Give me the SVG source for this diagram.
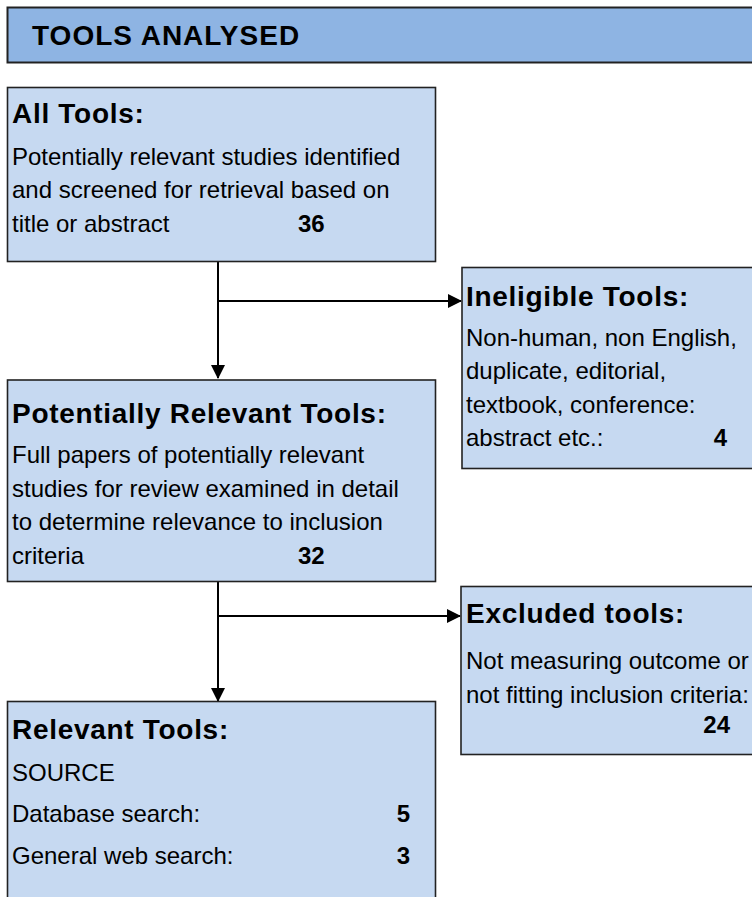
<svg xmlns="http://www.w3.org/2000/svg" width="752" height="897" viewBox="0 0 752 897">
<style>
.box{fill:#C6D9F1;stroke:#222;stroke-width:1.6}
.hdr{fill:#8EB4E3;stroke:#222;stroke-width:2}
.t{font-family:"Liberation Sans",Arial,sans-serif;fill:#000}
.h{font-size:28px;font-weight:bold;letter-spacing:0.7px}
.b{font-size:24px}
.n{font-size:24px;font-weight:bold}
.ht{font-size:28px;font-weight:bold;letter-spacing:1px}
.ln{fill:none;stroke:#000;stroke-width:2}
</style>
<defs>
<marker id="ah" markerWidth="14" markerHeight="14" refX="13" refY="7" orient="auto" markerUnits="userSpaceOnUse">
<path d="M0,0 L14,7 L0,14 Z" fill="#000"/>
</marker>
</defs>
<rect width="752" height="897" fill="#fff"/>
<g id="header">
<rect class="hdr" x="7.5" y="7.5" width="760" height="55"/>
<text class="t ht" x="32" y="45">TOOLS ANALYSED</text>
</g>
<g id="connectors">
<line class="ln" x1="218" y1="261" x2="218" y2="378" marker-end="url(#ah)"/>
<line class="ln" x1="218" y1="301" x2="461" y2="301" marker-end="url(#ah)"/>
<line class="ln" x1="218" y1="582" x2="218" y2="701" marker-end="url(#ah)"/>
<line class="ln" x1="218" y1="616" x2="460" y2="616" marker-end="url(#ah)"/>
</g>
<g id="all-tools">
<rect class="box" x="7.5" y="87.5" width="428" height="174"/>
<text class="t h" x="12" y="123">All Tools:</text>
<text class="t b" x="12" y="165">Potentially relevant studies identified</text>
<text class="t b" x="12" y="198">and screened for retrieval based on</text>
<text class="t b" x="12" y="232">title or abstract</text>
<text class="t n" x="298" y="232">36</text>
</g>
<g id="ineligible-tools">
<rect class="box" x="462" y="267.5" width="300" height="201"/>
<text class="t h" x="466" y="306">Ineligible Tools:</text>
<text class="t b" x="466" y="346">Non-human, non English,</text>
<text class="t b" x="466" y="379">duplicate, editorial,</text>
<text class="t b" x="466" y="413">textbook, conference:</text>
<text class="t b" x="466" y="446">abstract etc.:</text>
<text class="t n" x="727" y="446" text-anchor="end">4</text>
</g>
<g id="potentially-relevant-tools">
<rect class="box" x="7.5" y="380" width="428" height="201.5"/>
<text class="t h" x="12" y="423">Potentially Relevant Tools:</text>
<text class="t b" x="12" y="463">Full papers of potentially relevant</text>
<text class="t b" x="12" y="497">studies for review examined in detail</text>
<text class="t b" x="12" y="530">to determine relevance to inclusion</text>
<text class="t b" x="12" y="564">criteria</text>
<text class="t n" x="298" y="564">32</text>
</g>
<g id="excluded-tools">
<rect class="box" x="461" y="586.5" width="300" height="168"/>
<text class="t h" x="466" y="623">Excluded tools:</text>
<text class="t b" x="466" y="669">Not measuring outcome or</text>
<text class="t b" x="466" y="703">not fitting inclusion criteria:</text>
<text class="t n" x="730" y="733" text-anchor="end">24</text>
</g>
<g id="relevant-tools">
<rect class="box" x="7.5" y="701.5" width="428" height="210"/>
<text class="t h" x="12" y="739">Relevant Tools:</text>
<text class="t b" x="12" y="781">SOURCE</text>
<text class="t b" x="12" y="822">Database search:</text>
<text class="t n" x="410" y="822" text-anchor="end">5</text>
<text class="t b" x="12" y="864">General web search:</text>
<text class="t n" x="410" y="864" text-anchor="end">3</text>
</g>
</svg>
